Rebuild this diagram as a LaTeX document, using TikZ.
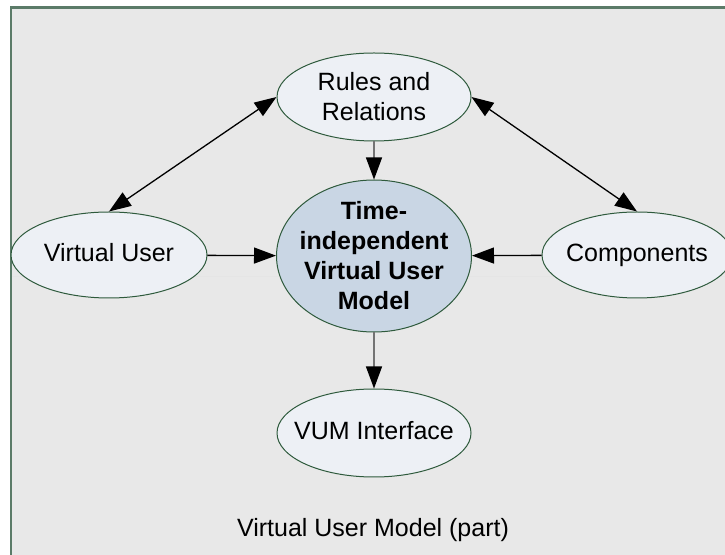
\documentclass[tikz,border=0pt]{standalone}
\usepackage{fontspec}
\setmainfont{Liberation Sans}
\usetikzlibrary{shapes.geometric,arrows.meta}

\definecolor{framegreen}{HTML}{5B7B68}
\definecolor{panelgray}{HTML}{E8E8E8}
\definecolor{ellfill}{HTML}{EDF0F5}
\definecolor{keyfill}{HTML}{C9D6E4}
\definecolor{ellborder}{HTML}{2E5A3C}

\tikzset{
  plainell/.style={ellipse, draw=ellborder, line width=1pt, fill=ellfill, align=center,
    inner xsep=-20pt, inner ysep=-5pt, minimum width=194pt, minimum height=88pt},
  oneline/.style={plainell, text height=18pt, text depth=5pt},
  keyell/.style={plainell, fill=keyfill, font=\fontsize{25}{30}\selectfont\bfseries,
    minimum width=195pt, minimum height=152pt},
  biarrow/.style={line width=1.3pt, {Triangle[length=22pt,width=16pt]}-{Triangle[length=22pt,width=16pt]}},
  feed/.style={line width=1.3pt, -{Triangle[length=22pt,width=16pt]}},
  feedgray/.style={line width=1.3pt, draw=black!55, -{Triangle[length=22pt,width=16pt,color=black]}}
}

\begin{document}
\begin{tikzpicture}[x=1pt,y=1pt,font=\fontsize{25}{30}\selectfont]
        \useasboundingbox (0,0) rectangle (725,554);
        \fill[white] (0,0) rectangle (725,554);
        \draw[framegreen, line width=2.2pt, fill=panelgray] (11,-10) rectangle (740,546.5);
        \draw[black!10, line width=1pt] (12,277) -- (725,277);

        \node[plainell] (rules) at (374,457) {Rules and\\Relations};
        \node[keyell] (tvum) at (374,298) {Time-\\independent\\Virtual User\\Model};
        \node[oneline, minimum width=196pt, minimum height=86pt] (vuser) at (109,299) {Virtual User};
        \node[oneline, minimum width=190pt, minimum height=86pt] (comp) at (637,299) {Components};
        \node[oneline] (vumif) at (374,121) {VUM Interface};
        \node (caption) at (373,24) {Virtual User Model (part)};

        \draw[biarrow] (rules.west) -- (vuser.north);
        \draw[biarrow] (rules.east) -- (comp.north);
        \draw[feedgray] (rules) -- (tvum);
        \draw[feed] (vuser) -- (tvum);
        \draw[feed] (comp) -- (tvum);
        \draw[feedgray] (tvum) -- (vumif);
    \end{tikzpicture}
\end{document}
